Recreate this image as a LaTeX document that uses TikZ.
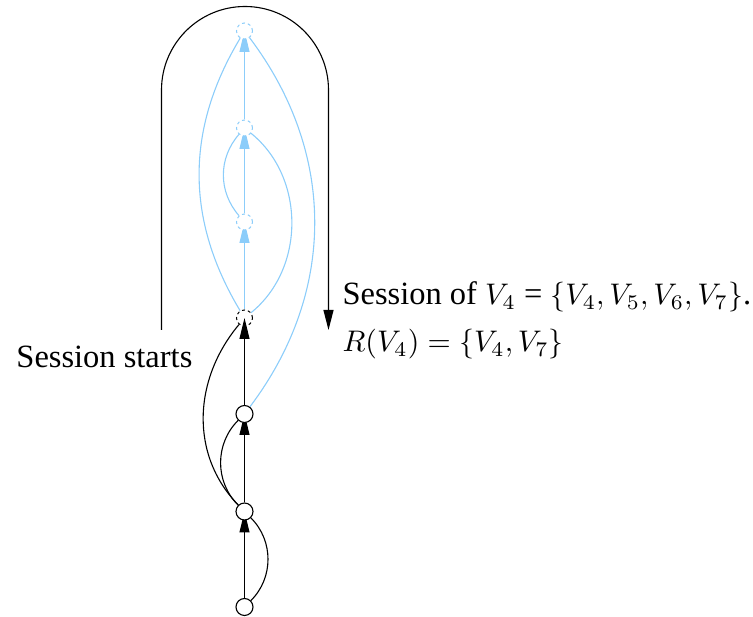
\documentclass[tikz,border=0pt]{standalone}
\usepackage{fontspec}
\setmainfont[Scale=1.09]{Liberation Serif}
\usetikzlibrary{arrows.meta}
\pgfdeclarelayer{fg}
\pgfsetlayers{main,fg}
\definecolor{sky}{RGB}{140,205,250}
\tikzset{
  blk/.style={draw=black, line width=1.1pt},
  blu/.style={draw=sky, line width=1.1pt},
  tip/.style={-{Triangle[length=21pt,width=10pt]}},
  solidnode/.style={circle, draw=black, fill=white, line width=1.1pt, minimum size=17pt, inner sep=0pt},
  dashnode/.style={circle, draw=black, line width=1pt, dash pattern=on 3pt off 3pt, minimum size=16pt, inner sep=0pt},
  dashblue/.style={circle, draw=sky, fill=white, line width=1pt, dash pattern=on 3pt off 3pt, minimum size=16pt, inner sep=0pt},
  lab/.style={scale=2.98, inner sep=0pt}
}
\begin{document}
\begin{tikzpicture}[x=1pt, y=1pt]
\useasboundingbox (0,0) rectangle (753,617);
\begin{pgfonlayer}{fg}
\node[solidnode] (v1) at (244.5,10) {};
\node[solidnode] (v2) at (244.5,105.5) {};
\node[solidnode] (v3) at (244.5,203) {};
\node[dashnode] (v4) at (244.5,299) {};
\node[dashblue] (v5) at (244.5,395) {};
\node[dashblue] (v6) at (244.5,489) {};
\node[dashblue] (v7) at (244.5,586) {};
\end{pgfonlayer}
% black edges
\draw[blk, tip] (v1) -- (v2.center);
\draw[blk, tip] (v2) -- (v3.center);
\draw[blk, tip] (v3) -- (v4.center);
\draw[blk] (v1) to[out=45, in=-45] (v2);
\draw[blk] (v2) to[out=135, in=-135] (v3);
\draw[blk] (v2) to[out=134, in=-130] (v4);
% blue edges
\draw[blu, tip] (v4) -- (v5.center);
\draw[blu, tip] (v5) -- (v6.center);
\draw[blu, tip] (v6) -- (v7.center);
\draw[blu] (v3) to[out=53, in=-53] (v7);
\draw[blu] (v4) to[out=121, in=-121] (v7);
\draw[blu] (v4) to[out=39, in=-39] (v6);
\draw[blu] (v5) to[out=131, in=-131] (v6);
% session arc
\coordinate (sL) at (161.5,287);
\coordinate (aL) at (161.5,527);
\coordinate (sR) at (328.5,287);
\draw[blk, -{Triangle[length=20pt,width=10pt]}] (sL) -- (aL) arc[start angle=180, end angle=0, radius=83.5] -- (sR);
% labels
\node[lab, anchor=base east] (st) at (193,249) {Session starts};
\node[lab, anchor=base west] (l1) at (342,312) {Session of $V_4$ = $\{V_4, V_5, V_6, V_7\}$.};
\node[lab, anchor=base west] (l2) at (342,265) {$R(V_4) = \{V_4, V_7\}$};
\end{tikzpicture}
\end{document}
